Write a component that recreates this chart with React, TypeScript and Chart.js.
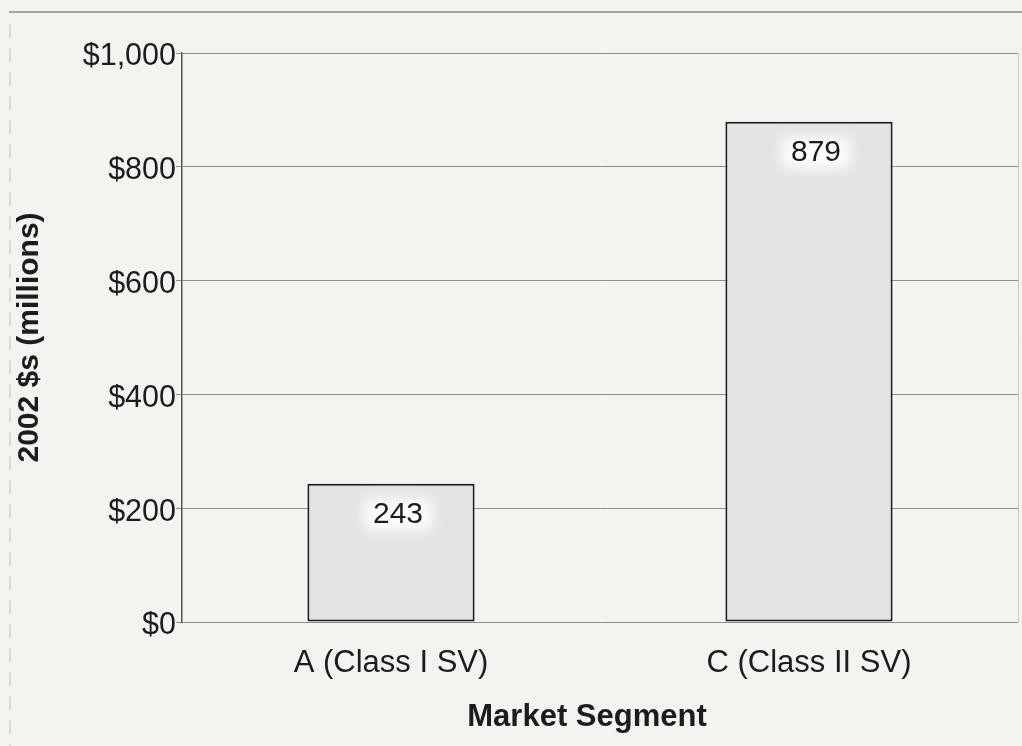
import React, { useEffect, useRef } from "react";
import { Chart, registerables } from "chart.js";

Chart.register(...registerables);

// Market segment spending, 2002 dollars (millions)
const segments = ["A (Class I SV)", "C (Class II SV)"];
const spending = [243, 879];
const yTickValues = [0, 200, 400, 600, 800, 1000];
const xAxisTitle = "Market Segment";
const yAxisTitle = "2002 $s (millions)";

const FONT = "'Liberation Sans', Arial, Helvetica, sans-serif";
const PAGE_BG = "#f3f3ef";
const TEXT = "#1c1c1c";

// Page frame: a rule across the top and a faint dashed rule down the left side
const framePlugin = {
  id: "frame",
  beforeDraw(chart: Chart) {
    const { ctx, chartArea } = chart;
    ctx.save();
    ctx.fillStyle = PAGE_BG;
    ctx.fillRect(0, 0, chart.width, chart.height);
    ctx.strokeStyle = "#8a8a88";
    ctx.lineWidth = 1.5;
    ctx.beginPath();
    ctx.moveTo(9, 12);
    ctx.lineTo(chart.width, 12);
    ctx.stroke();
    ctx.strokeStyle = "#d9d9d5";
    ctx.lineWidth = 2;
    ctx.setLineDash([14, 10]);
    ctx.beginPath();
    ctx.moveTo(10, 24);
    ctx.lineTo(10, chart.height);
    ctx.stroke();
    ctx.setLineDash([]);
    // right edge of the plot area
    ctx.strokeStyle = "#c8c8c4";
    ctx.lineWidth = 1;
    ctx.beginPath();
    ctx.moveTo(chartArea.right + 0.5, chartArea.top);
    ctx.lineTo(chartArea.right + 0.5, chartArea.bottom);
    ctx.stroke();
    ctx.restore();
  },
};

// Value labels inside each bar on a soft white glow, plus the category axis title
const labelPlugin = {
  id: "valueLabels",
  afterDatasetsDraw(chart: Chart) {
    const { ctx } = chart;
    const meta = chart.getDatasetMeta(0);
    meta.data.forEach((bar: any, i: number) => {
      const x = bar.x + 7;
      const y = bar.y + 31;
      ctx.save();
      ctx.filter = "blur(7px)";
      ctx.fillStyle = "rgba(255,255,255,0.95)";
      ctx.fillRect(x - 34, y - 16, 68, 32);
      ctx.restore();
      ctx.save();
      ctx.font = `30px ${FONT}`;
      ctx.fillStyle = TEXT;
      ctx.textAlign = "center";
      ctx.textBaseline = "middle";
      ctx.fillText(String(spending[i]), x, y);
      ctx.restore();
    });

    ctx.save();
    ctx.font = `bold 31px ${FONT}`;
    ctx.fillStyle = TEXT;
    ctx.textAlign = "center";
    ctx.textBaseline = "middle";
    ctx.fillText(xAxisTitle, 587, 717);
    ctx.restore();
  },
};

export default function App() {
  const canvasRef = useRef<HTMLCanvasElement | null>(null);

  useEffect(() => {
    const canvas = canvasRef.current;
    if (!canvas) return;

    const chart = new Chart(canvas, {
      type: "bar",
      data: {
        labels: segments,
        datasets: [
          {
            data: spending,
            backgroundColor: (c: any) => {
              const el = c.element;
              if (!c.chart.chartArea || !el || el.width == null) return "#e3e3e1";
              const g = c.chart.ctx.createLinearGradient(el.x - el.width / 2, 0, el.x + el.width / 2, 0);
              g.addColorStop(0, "#dededc");
              g.addColorStop(0.5, "#ebebe9");
              g.addColorStop(1, "#dededc");
              return g;
            },
            borderColor: "#1e1e1e",
            borderWidth: 2,
            borderSkipped: false,
            barPercentage: 0.4,
            categoryPercentage: 1,
          },
        ],
      },
      options: {
        responsive: false,
        animation: false,
        layout: { padding: { top: 53, right: 4, left: 0, bottom: 0 } },
        plugins: {
          legend: { display: false },
          tooltip: { enabled: false },
        },
        scales: {
          x: {
            grid: { display: false, drawTicks: false },
            border: { display: false },
            ticks: {
              color: TEXT,
              font: { family: FONT, size: 31 },
              padding: 23,
            },
            afterFit(scale: any) {
              scale.height = 124;
            },
          },
          y: {
            min: 0,
            max: 1000,
            afterBuildTicks(scale: any) {
              scale.ticks = yTickValues.map((v) => ({ value: v }));
            },
            grid: {
              color: "#8e8e8c",
              lineWidth: 1,
              tickLength: 6,
              drawTicks: true,
            },
            border: { display: true, color: "#555555", width: 1.5 },
            ticks: {
              color: TEXT,
              font: { family: FONT, size: 30.5 },
              padding: 0,
              labelOffset: 4,
              callback: (v: any) => "$" + Number(v).toLocaleString("en-US"),
            },
            title: {
              display: true,
              text: yAxisTitle,
              color: TEXT,
              font: { family: FONT, size: 30, weight: "bold" },
              padding: { top: 12, bottom: 0 },
            },
            afterFit(scale: any) {
              scale.width = 182;
            },
          },
        },
      },
      plugins: [framePlugin, labelPlugin],
    });

    return () => chart.destroy();
  }, []);

  return (
    <div
      style={{
        position: "fixed",
        left: 0,
        top: 0,
        width: 1022,
        height: 746,
        background: PAGE_BG,
      }}
    >
      <canvas ref={canvasRef} width={1022} height={746} style={{ display: "block" }} />
    </div>
  );
}
